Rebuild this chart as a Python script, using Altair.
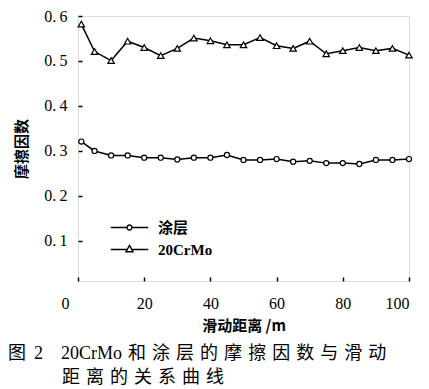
import altair as alt
import pandas as pd

distance = [1, 5, 10, 15, 20, 25, 30, 35, 40, 45, 50, 55, 60, 65, 70, 75, 80, 85, 90, 95, 100]
coating = [0.321, 0.300, 0.290, 0.290, 0.285, 0.285, 0.281, 0.285, 0.285, 0.291, 0.280,
           0.280, 0.282, 0.276, 0.278, 0.273, 0.273, 0.271, 0.280, 0.280, 0.282]
steel = [0.582, 0.521, 0.501, 0.544, 0.530, 0.512, 0.528, 0.551, 0.545, 0.536, 0.536,
         0.552, 0.534, 0.528, 0.544, 0.516, 0.523, 0.530, 0.523, 0.528, 0.513]
series = ["涂层", "20CrMo"]
x_ticks = [0, 20, 40, 60, 80, 100]
y_ticks = [0.1, 0.2, 0.3, 0.4, 0.5, 0.6]

rows = []
for d, v in zip(distance, coating):
    rows.append({"distance": d, "mu": v, "series": series[0]})
for d, v in zip(distance, steel):
    rows.append({"distance": d, "mu": v, "series": series[1]})
df = pd.DataFrame(rows)

SERIF = "'Liberation Serif', 'Noto Sans CJK SC'"
CJK = "'Noto Sans CJK SC'"

x_enc = alt.X(
    "distance:Q",
    scale=alt.Scale(domain=[0, 100], nice=False, zero=False),
    axis=alt.Axis(
        values=x_ticks, domain=False, grid=False, offset=-4, tickSize=4,
        tickWidth=1.5, tickColor="black", labelFont=SERIF, labelFontSize=16,
        labelColor="black", labelPadding=14,
        labelOffset={"condition": {"test": "datum.value == 0", "value": -17}, "value": 0},
        title="滑动距离 /m", titleFont=CJK, titleFontSize=15, titleFontWeight="bold",
        titleColor="black", titlePadding=7,
    ),
)
y_enc = alt.Y(
    "mu:Q",
    scale=alt.Scale(domain=[0.011, 0.6], nice=False, zero=False),
    axis=alt.Axis(
        values=y_ticks, domain=False, grid=False, offset=-4, tickSize=4,
        tickWidth=1.5, tickColor="black", labelFont=SERIF, labelFontSize=16,
        labelColor="black", labelPadding=11,
        labelExpr="replace(format(datum.value, '.1f'), '.', '.\u2009')",
        title="摩擦因数", titleFont=CJK, titleFontSize=15, titleFontWeight="bold",
        titleColor="black", titlePadding=14,
    ),
)

base = alt.Chart(df).encode(x=x_enc, y=y_enc)

line = base.mark_line(color="black", strokeWidth=1.5).encode(detail="series:N")

points = base.mark_point(filled=True, fill="white", stroke="black", strokeWidth=1.2, opacity=1).encode(
    shape=alt.Shape("series:N", scale=alt.Scale(domain=series, range=["circle", "triangle-up"]), legend=None),
    size=alt.Size("series:N", scale=alt.Scale(domain=series, range=[26, 42]), legend=None),
)

path_circle = "M-2.5,0H-0.33M0.33,0H2.5M-0.33,0A0.33,0.33,0,1,0,0.33,0A0.33,0.33,0,1,0,-0.33,0Z"
path_tri = "M-2.5,0H-0.3M0.3,0H2.5M0,-0.55L0.47,0.3L-0.47,0.3Z"

legend_layer = base.mark_point(opacity=0).transform_calculate(lg="datum.series").encode(
    shape=alt.Shape(
        "lg:N",
        scale=alt.Scale(domain=series, range=[path_circle, path_tri]),
        legend=alt.Legend(
            title=None, orient="none", legendX=43, legendY=203, padding=0,
            symbolSize=225, symbolStrokeColor="black", symbolFillColor="white",
            symbolStrokeWidth=1.4, symbolOpacity=1,
            labelFont=SERIF, labelFontSize=15, labelFontWeight="bold",
            labelColor="black", labelOffset=20, rowPadding=5,
        ),
    )
)

line1 = "图 \u20092\u300020CrMo\u2004和\u2004涂\u2004层\u2004的\u2004摩\u2004擦\u2004因\u2004数\u2004与\u2004滑\u2004动"
line2 = "\u200b\u3000\u3000\u3000距\u2004离\u2004的\u2004关\u2004系\u2004曲\u2004线"

chart = alt.layer(line, points, legend_layer).resolve_scale(shape="independent").properties(
    width=331,
    height=265,
    padding={"left": 70, "top": 8, "right": 12, "bottom": 108},
    autosize=alt.AutoSizeParams(type="none"),
    title=alt.TitleParams(
        text=[line1, line2], orient="bottom", anchor="start", frame="group",
        dx=-70, offset=12, font=SERIF, fontSize=18, fontWeight="normal",
        color="black", lineHeight=24,
    ),
).configure_view(stroke="black", strokeWidth=2).configure(background="white")

chart.save("out.html", embed_options={"renderer": "svg", "actions": False})
